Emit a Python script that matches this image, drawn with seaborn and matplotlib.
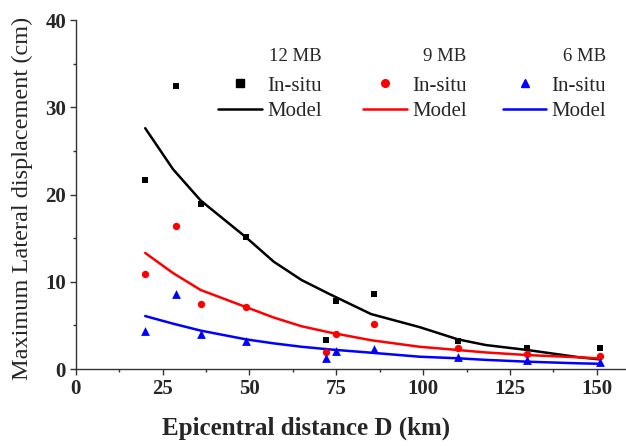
import matplotlib
matplotlib.use("Agg")
import matplotlib.pyplot as plt
import seaborn as sns
import pandas as pd
from matplotlib.ticker import MultipleLocator
from matplotlib.lines import Line2D
from matplotlib.legend import Legend

# Data: in-situ measurements
distance = [20, 29, 36, 49, 72, 75, 86, 110, 130, 151]
insitu_12 = [21.7, 32.4, 18.9, 15.1, 3.3, 7.8, 8.55, 3.25, 2.37, 2.37]
insitu_9 = [10.9, 16.4, 7.5, 7.1, 1.98, 4.0, 5.2, 2.37, 1.72, 1.49]
insitu_6 = [4.4, 8.55, 4.07, 3.24, 1.23, 2.1, 2.26, 1.35, 1.03, 0.84]

# Data: model curves
model_d = [20, 28, 36, 49, 57, 65, 73, 85, 99, 110, 118, 130, 145, 151]
model_12 = [27.6, 22.9, 19.3, 15.1, 12.3, 10.2, 8.6, 6.3, 4.8, 3.4, 2.75, 2.18, 1.34, 1.1]
model_9 = [13.3, 11.0, 9.05, 7.1, 5.9, 4.9, 4.2, 3.3, 2.55, 2.18, 1.9, 1.6, 1.34, 1.2]
model_6 = [6.07, 5.2, 4.4, 3.4, 2.94, 2.55, 2.25, 1.87, 1.41, 1.23, 1.05, 0.84, 0.65, 0.6]

groups = ["12 MB", "9 MB", "6 MB"]
colors = ["black", "red", "blue"]
markers = ["s", "o", "^"]
msizes = [22, 28, 40]

sns.set_theme(style="ticks")
plt.rcParams["font.family"] = ["Liberation Serif", "DejaVu Serif"]

fig = plt.figure(figsize=(6.26, 4.46), dpi=100)
ax = fig.add_axes([0.121, 0.1726, 0.879, 0.7825])

insitu = [insitu_12, insitu_9, insitu_6]
model = [model_12, model_9, model_6]
for g, c, m, ms, ins, mod in zip(groups, colors, markers, msizes, insitu, model):
    dm = pd.DataFrame({"D": model_d, "v": mod})
    di = pd.DataFrame({"D": distance, "v": ins})
    sns.lineplot(data=dm, x="D", y="v", color=c, lw=1.8, ax=ax)
    sns.scatterplot(data=di, x="D", y="v", color=c, marker=m, s=ms,
                    edgecolor=c, linewidth=0, ax=ax, zorder=3)

ax.set_xlim(0, 158.4)
ax.set_ylim(0, 40)
ax.xaxis.set_major_locator(MultipleLocator(25))
ax.xaxis.set_minor_locator(MultipleLocator(12.5))
ax.yaxis.set_major_locator(MultipleLocator(10))
ax.yaxis.set_minor_locator(MultipleLocator(5))
ax.tick_params(which="major", direction="out", length=4.5, width=1, color="#333333",
               labelsize=15, pad=2.5)
ax.tick_params(which="minor", direction="out", length=2.5, width=1, color="#333333")
for lab in ax.get_xticklabels() + ax.get_yticklabels():
    lab.set_fontweight("bold")
for s in ["top", "right"]:
    ax.spines[s].set_visible(False)
for s in ["left", "bottom"]:
    ax.spines[s].set_color("#333333")
    ax.spines[s].set_linewidth(1)

ax.set_xlabel("Epicentral distance D (km)", fontsize=18, fontweight="bold",
              ha="left", va="top")
ax.xaxis.set_label_coords(0.156, -0.135)
ax.set_ylabel("Maximum Lateral displacement (cm)", fontsize=17.5)
ax.yaxis.set_label_coords(-0.078, 0.49)

# Legends
anchors = [(0.259, 0.92), (0.522, 0.92), (0.776, 0.92)]
for g, c, m, anc in zip(groups, colors, markers, anchors):
    h = [Line2D([], [], ls="none", marker=m, color=c, markersize=5.5),
         Line2D([], [], color=c, lw=1.8)]
    leg = Legend(ax, h, ["In-situ", "Model"], title=g, loc="upper left",
                 bbox_to_anchor=anc, frameon=False, fontsize=15,
                 title_fontsize=13.5, handlelength=2.1, handletextpad=0.25,
                 labelspacing=0.3, borderpad=0, borderaxespad=0,
                 alignment="right")
    leg._legend_box.sep = 8
    ax.add_artist(leg)

fig.savefig("out.png", dpi=100)
